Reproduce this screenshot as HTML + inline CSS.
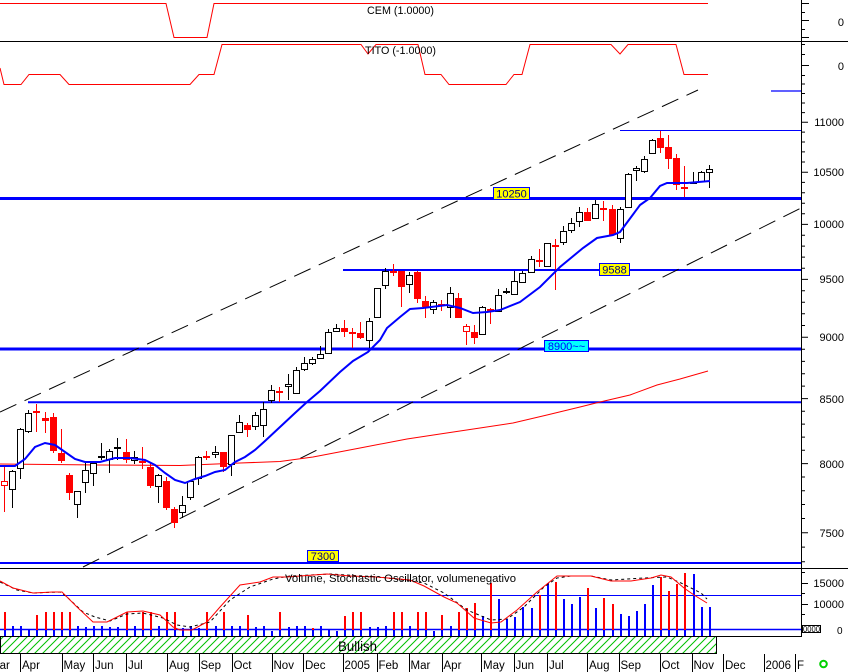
<!DOCTYPE html>
<html><head><meta charset="utf-8"><style>
html,body{margin:0;padding:0;background:#fff;}
svg{display:block;font-family:"Liberation Sans",Arial,sans-serif;}
</style></head><body>
<svg width="848" height="672" viewBox="0 0 848 672" xmlns="http://www.w3.org/2000/svg">
<defs>
<pattern id="h" width="8" height="8" patternUnits="userSpaceOnUse">
<path d="M-1,9 L9,-1 M-5,5 L5,-5 M3,13 L13,3" stroke="#00c000" stroke-width="1"/>
</pattern>
</defs>
<rect width="848" height="672" fill="#fff"/>

<polyline points="0,3.5 166,3.5 174,37.5 207,37.5 214,3.5 708,3.5" fill="none" stroke="#f00" stroke-width="1"/>
<line x1="0" y1="41.5" x2="848" y2="41.5" stroke="#000" stroke-width="1"/>
<polyline points="0,68 4,84.5 21,84.5 29,74.5 60,74.5 69,84.5 190,84.5 199,74.5 214,74.5 222,44.5 361,44.5 368,54 376,44.5 418,44.5 425,74.5 441,74.5 449,84.5 506,84.5 514,74.5 522,74.5 530,44.5 611,44.5 620,54 628,44.5 676,44.5 684,74.5 708,74.5" fill="none" stroke="#f00" stroke-width="1"/>
<text x="367" y="14" font-size="11" textLength="67" lengthAdjust="spacingAndGlyphs">CEM (1.0000)</text>
<text x="365" y="54" font-size="11" textLength="71" lengthAdjust="spacingAndGlyphs">TITO (-1.0000)</text>
<text x="844" y="26" font-size="11" text-anchor="end">0</text>
<text x="844" y="70" font-size="11" text-anchor="end">0</text>

<line x1="771" y1="91" x2="801" y2="91" stroke="#00f" stroke-width="1.3"/>
<line x1="620" y1="130.5" x2="801" y2="130.5" stroke="#00f" stroke-width="1"/>
<line x1="0" y1="198.5" x2="801" y2="198.5" stroke="#00f" stroke-width="3"/>
<line x1="343" y1="270" x2="801" y2="270" stroke="#00f" stroke-width="2"/>
<line x1="0" y1="349" x2="801" y2="349" stroke="#00f" stroke-width="3"/>
<line x1="28" y1="402.3" x2="801" y2="402.3" stroke="#00f" stroke-width="2"/>
<line x1="0" y1="563" x2="801" y2="563" stroke="#00f" stroke-width="2"/>

<line x1="0" y1="412" x2="698" y2="90" stroke="#000" stroke-width="1" stroke-dasharray="18 9"/>
<line x1="83" y1="567" x2="801" y2="208" stroke="#000" stroke-width="1" stroke-dasharray="18 9"/>

<polyline points="0,464 100,465 180,465.5 240,463 280,461.5 313,457 360,448 407,439 440,434 480,428 513,423 547,415 580,407 600,402 630,395 657,385 680,379 708,371" fill="none" stroke="#f00" stroke-width="1"/>

<path fill="none" stroke="#000" stroke-width="1" d="M12.5 470V508M20.5 428V479M28.5 410V433M77.5 491V518M85.5 463V493M93.5 462V486M101.5 443V460M109.5 449V473M117.5 438V460M134.5 451V464M158.5 474V503M182.5 496V518M190.5 480V500M198.5 456V485M215.5 446V458M231.5 435V476M239.5 415V433M255.5 412V430M263.5 402V437M271.5 385V403M288.5 374V400M296.5 367V394M304.5 357V371M312.5 357V365M320.5 346V359M328.5 329V354M336.5 324V332M369.5 318V348M377.5 288V318M385.5 268V289M409.5 272V293M433.5 300V314M450.5 287V318M482.5 306V335M498.5 289V312M506.5 288V294M514.5 271V295M522.5 271V283M531.5 256V273M547.5 243V267M563.5 226V245M571.5 218V233M579.5 207V227M595.5 200V219M620.5 207V243M628.5 173V208M636.5 166V181M644.5 156V173M652.5 139V154M693.5 172V184M701.5 171V182M709.5 165V188"/>
<path fill="none" stroke="#f00" stroke-width="1" d="M4.5 465V512M36.5 404V432M45.5 412V433M53.5 413V453M61.5 429V463M69.5 473V500M126.5 439V463M142.5 447V469M150.5 463V488M166.5 477V510M174.5 507V528M206.5 451V460M223.5 452V472M247.5 423V437M279.5 387V402M344.5 320V337M352.5 328V348M360.5 322V339M393.5 264V276M401.5 271V307M417.5 271V303M425.5 296V318M441.5 300V311M458.5 293V318M466.5 324V345M474.5 325V344M490.5 308V324M539.5 249V267M555.5 239V290M587.5 208V221M603.5 201V221M612.5 205V235M660.5 131V153M668.5 135V169M676.5 154V190M684.5 166V197"/>

<g fill="#fff" stroke="#000" stroke-width="1">
<rect x="9.5" y="471.5" width="6" height="18"/>
<rect x="17.5" y="429.5" width="6" height="39"/>
<rect x="25.5" y="413.5" width="6" height="18"/>
<rect x="74.5" y="491.5" width="6" height="13"/>
<rect x="82.5" y="470.5" width="6" height="12"/>
<rect x="90.5" y="463.5" width="6" height="10"/>
<rect x="106.5" y="451.5" width="6" height="8"/>
<rect x="131.5" y="457.5" width="6" height="3"/>
<rect x="155.5" y="475.5" width="6" height="11"/>
<rect x="179.5" y="505.5" width="6" height="7"/>
<rect x="187.5" y="481.5" width="6" height="16"/>
<rect x="195.5" y="457.5" width="6" height="21"/>
<rect x="212.5" y="452.5" width="6" height="2"/>
<rect x="228.5" y="435.5" width="6" height="29"/>
<rect x="236.5" y="422.5" width="6" height="10"/>
<rect x="252.5" y="415.5" width="6" height="11"/>
<rect x="260.5" y="409.5" width="6" height="16"/>
<rect x="268.5" y="390.5" width="6" height="10"/>
<rect x="285.5" y="384.5" width="6" height="2"/>
<rect x="293.5" y="370.5" width="6" height="23"/>
<rect x="301.5" y="363.5" width="6" height="6"/>
<rect x="309.5" y="359.5" width="6" height="4"/>
<rect x="317.5" y="354.5" width="6" height="4"/>
<rect x="325.5" y="332.5" width="6" height="21"/>
<rect x="333.5" y="328.5" width="6" height="3"/>
<rect x="366.5" y="321.5" width="6" height="19"/>
<rect x="374.5" y="288.5" width="6" height="29"/>
<rect x="382.5" y="271.5" width="6" height="14"/>
<rect x="406.5" y="275.5" width="6" height="9"/>
<rect x="430.5" y="302.5" width="6" height="7"/>
<rect x="447.5" y="293.5" width="6" height="14"/>
<rect x="479.5" y="307.5" width="6" height="27"/>
<rect x="495.5" y="295.5" width="6" height="16"/>
<rect x="511.5" y="281.5" width="6" height="13"/>
<rect x="519.5" y="273.5" width="6" height="9"/>
<rect x="528.5" y="259.5" width="6" height="13"/>
<rect x="544.5" y="243.5" width="6" height="23"/>
<rect x="560.5" y="231.5" width="6" height="11"/>
<rect x="568.5" y="223.5" width="6" height="7"/>
<rect x="576.5" y="212.5" width="6" height="9"/>
<rect x="592.5" y="204.5" width="6" height="14"/>
<rect x="617.5" y="209.5" width="6" height="29"/>
<rect x="625.5" y="174.5" width="6" height="33"/>
<rect x="633.5" y="168.5" width="6" height="2"/>
<rect x="641.5" y="159.5" width="6" height="12"/>
<rect x="649.5" y="140.5" width="6" height="13"/>
<rect x="698.5" y="172.5" width="6" height="9"/>
<rect x="706.5" y="169.5" width="6" height="3"/>
</g>
<g fill="#000">
<rect x="98" y="456" width="7" height="2"/>
<rect x="114" y="447" width="7" height="2"/>
<rect x="503" y="291" width="7" height="2"/>
<rect x="690" y="182" width="7" height="2"/>
</g>
<g fill="#f00">
<rect x="50" y="417" width="7" height="34"/>
<rect x="58" y="453" width="7" height="8"/>
<rect x="66" y="475" width="7" height="18"/>
<rect x="123" y="452" width="7" height="8"/>
<rect x="147" y="467" width="7" height="19"/>
<rect x="163" y="481" width="7" height="27"/>
<rect x="171" y="509" width="7" height="14"/>
<rect x="220" y="452" width="7" height="15"/>
<rect x="244" y="425" width="7" height="5"/>
<rect x="341" y="328" width="7" height="4"/>
<rect x="357" y="333" width="7" height="5"/>
<rect x="398" y="271" width="7" height="16"/>
<rect x="414" y="272" width="7" height="27"/>
<rect x="422" y="301" width="7" height="6"/>
<rect x="455" y="298" width="7" height="20"/>
<rect x="471" y="332" width="7" height="6"/>
<rect x="584" y="212" width="7" height="9"/>
<rect x="609" y="209" width="7" height="26"/>
<rect x="657" y="138" width="7" height="10"/>
<rect x="665" y="147" width="7" height="12"/>
<rect x="673" y="158" width="7" height="27"/>
<rect x="33" y="411" width="7" height="2"/>
<rect x="42" y="418" width="7" height="3"/>
<rect x="139" y="461" width="7" height="2"/>
<rect x="203" y="456" width="7" height="2"/>
<rect x="276" y="391" width="7" height="2"/>
<rect x="349" y="332" width="7" height="2"/>
<rect x="390" y="271" width="7" height="2"/>
<rect x="438" y="304" width="7" height="2"/>
<rect x="487" y="309" width="7" height="3"/>
<rect x="536" y="260" width="7" height="2"/>
<rect x="552" y="245" width="7" height="2"/>
<rect x="600" y="208" width="7" height="2"/>
<rect x="681" y="187" width="7" height="2"/>
</g>
<g fill="#fff" stroke="#f00" stroke-width="1">
<rect x="1.5" y="481.5" width="6" height="4"/>
<rect x="463.5" y="326.5" width="6" height="5"/>
</g>

<polyline points="0,466 15,466 25,459 35,447 45,443 55,445 65,452 75,459 85,462 100,462 115,458 130,458 145,460 155,465 165,473 175,480 185,483 195,479 205,476 215,472 225,470 235,462 245,457 255,450 265,441 280,427 295,413 307,402 320,391 340,372 353,361 368,352 380,340 387,328 400,317 410,309 423,308 447,305 460,308 473,313 487,312 500,310 520,302 540,287 560,267 583,248 597,238 613,235 620,232 640,205 650,198 660,186 667,183 687,183 710,181" fill="none" stroke="#00f" stroke-width="2"/>

<rect x="493.5" y="187.5" width="36" height="12" fill="#ff0" stroke="#00f" stroke-width="1"/>
<text x="511.5" y="197.5" font-size="11" text-anchor="middle" fill="#000080">10250</text>
<rect x="599.5" y="263.5" width="30" height="12" fill="#ff0" stroke="#00f" stroke-width="1"/>
<text x="614.5" y="273.5" font-size="11" text-anchor="middle" fill="#000080">9588</text>
<rect x="544.5" y="340.5" width="44" height="11" fill="#0ff" stroke="#00f" stroke-width="1"/>
<text x="566.5" y="350" font-size="11" text-anchor="middle" fill="#00f">8900~~</text>
<rect x="307.5" y="550.5" width="31" height="11" fill="#ff0" stroke="#00f" stroke-width="1"/>
<text x="323" y="560" font-size="11" text-anchor="middle" fill="#000080">7300</text>

<line x1="0" y1="568.5" x2="848" y2="568.5" stroke="#000" stroke-width="1"/>
<line x1="801.5" y1="0" x2="801.5" y2="637" stroke="#000" stroke-width="1"/>

<path fill="none" stroke="#000" stroke-width="1" d="M801 3.5h8M801 12.5h4M801 20.5h8M801 29.5h4M801 37.5h8M801 44.5h4M801 54.5h4M801 65.5h8M801 75.5h4M801 84h4M801 93.5h4M801 103h4M801 112.6h4M801 122.3h7M801 132.1h4M801 142h4M801 151.9h4M801 162h4M801 172.2h7M801 182.4h4M801 192.8h4M801 203.2h4M801 213.8h4M801 224.4h7M801 235.2h4M801 246.1h4M801 257.1h4M801 268.2h4M801 279.4h7M801 290.7h4M801 302.2h4M801 313.8h4M801 325.5h4M801 337.3h7M801 349.3h4M801 361.4h4M801 373.7h4M801 386.1h4M801 398.6h7M801 411.3h4M801 424.1h4M801 437.1h4M801 450.2h4M801 463.6h7M801 477h4M801 490.7h4M801 504.5h4M801 518.5h4M801 532.7h7M801 547.1h4M801 561.7h4M801 572.5h4M801 583.5h7M801 593.5h4M801 604.5h7M801 614.5h4M801 625.5h4"/>
<g font-size="11" text-anchor="end" fill="#000">
<text x="844" y="126">11000</text>
<text x="844" y="176">10500</text>
<text x="844" y="228">10000</text>
<text x="844" y="283">9500</text>
<text x="844" y="341">9000</text>
<text x="844" y="403">8500</text>
<text x="844" y="468">8000</text>
<text x="844" y="537">7500</text>
<text x="844" y="587">15000</text>
<text x="844" y="608">10000</text>
</g>
<rect x="802.5" y="625.5" width="18" height="7" fill="#fff" stroke="#000" stroke-width="1"/>
<text x="803" y="632" font-size="8" textLength="17" lengthAdjust="spacingAndGlyphs">0000</text>
<text x="837" y="634" font-size="10">0</text>

<line x1="0" y1="595.5" x2="801" y2="595.5" stroke="#00f" stroke-width="1"/>
<line x1="0" y1="629.5" x2="801" y2="629.5" stroke="#00f" stroke-width="1.5"/>

<path fill="none" stroke="#f00" stroke-width="2" d="M5 612V630M37 615V630M46 612V630M54 612V630M62 612V630M70 612V630M127 612V630M143 612V630M151 612V630M167 612V630M175 612V630M207 612V630M224 612V630M248 615V630M280 612V630M313 628V630M345 616V630M353 612V630M361 612V630M394 612V630M402 612V630M418 612V630M426 612V630M442 615V630M459 612V630M467 608V630M475 603V630M491 583V630M540 595V630M556 582V630M588 588V630M604 598V630M613 604V630M661 577V630M669 591V630M677 584V630M685 573V630"/>
<path fill="none" stroke="#00f" stroke-width="2" d="M13 626V636M21 626V636M29 629V636M78 626V636M86 627V636M94 626V636M102 626V636M110 627V636M118 627V636M135 626V636M159 626V636M183 628V636M191 626V636M199 628V636M216 626V636M232 626V636M240 626V636M256 627V636M264 626V636M272 631V636M289 627V636M297 626V636M305 626V636M321 626V636M329 630V636M337 631V636M370 627V636M378 627V636M386 626V636M410 626V636M434 631V636M451 626V636M483 616V636M499 599V636M507 619V636M515 617V636M523 607V636M532 608V636M548 583V636M564 599V636M572 604V636M580 597V636M596 608V636M621 614V636M629 616V636M637 611V636M645 604V636M653 585V636M694 574V636M702 607V636M710 607V636M5 630V636M37 630V636M46 630V636M54 630V636M62 630V636M70 630V636M127 630V636M143 630V636M151 630V636M167 630V636M175 630V636M207 630V636M224 630V636M248 630V636M280 630V636M313 630V636M345 630V636M353 630V636M361 630V636M394 630V636M402 630V636M418 630V636M426 630V636M442 630V636M459 630V636M467 630V636M475 630V636M491 630V636M540 630V636M556 630V636M588 630V636M604 630V636M613 630V636M661 630V636M669 630V636M677 630V636M685 630V636"/>

<polyline points="0,582 17,590 33,593 60,592 67,597 83,612 95,617 110,621 127,614 143,613 163,618 177,625 190,627 210,622 230,600 250,587 273,579 290,576 330,574 380,577 424,583 444,593 467,610 491,620 507,619 524,607 544,587 557,578 571,576 591,576 611,580 644,578 667,577 681,583 701,593 707,599" fill="none" stroke="#000" stroke-width="1" stroke-dasharray="3 3"/>
<polyline points="0,581 13,588 33,593 53,592 62,592 77,607 93,622 107,622 127,612 143,611 160,615 173,627 180,630 192,630 207,622 220,607 240,585 260,582 273,577 287,577 327,574 350,576 377,577 410,580 424,586 444,597 457,603 474,618 491,623 501,622 517,610 537,592 557,576 591,576 611,581 631,581 651,578 661,575 671,577 684,588 694,595 707,603" fill="none" stroke="#f00" stroke-width="1"/>
<text x="285" y="582" font-size="11" textLength="231" lengthAdjust="spacingAndGlyphs">Volume, Stochastic Oscillator, volumenegativo</text>

<line x1="0" y1="636.5" x2="801" y2="636.5" stroke="#000" stroke-width="1"/>
<rect x="0.5" y="636.5" width="716" height="17" fill="url(#h)" stroke="#000" stroke-width="1"/>
<text x="338" y="651" font-size="14" textLength="39" lengthAdjust="spacingAndGlyphs">Bullish</text>

<path fill="none" stroke="#000" stroke-width="1" d="M20.5 654V672M62.5 654V672M93.5 654V672M126.5 654V672M167.5 654V672M199.5 654V672M232.5 654V672M272.5 654V672M303.5 654V672M343.5 654V672M377.5 654V672M409.5 654V672M442.5 654V672M481.5 654V672M514.5 654V672M547.5 654V672M587.5 654V672M619.5 654V672M660.5 654V672M692.5 654V672M723.5 654V672M764.5 654V672M795.5 654V672"/>
<g font-size="11.5" fill="#000">
<text x="-10" y="669">Mar</text>
<text x="22" y="669">Apr</text>
<text x="63.5" y="669">May</text>
<text x="95" y="669">Jun</text>
<text x="128" y="669">Jul</text>
<text x="169" y="669">Aug</text>
<text x="200.5" y="669">Sep</text>
<text x="233.5" y="669">Oct</text>
<text x="273.5" y="669">Nov</text>
<text x="305" y="669">Dec</text>
<text x="344.5" y="669">2005</text>
<text x="378.5" y="669">Feb</text>
<text x="410.5" y="669">Mar</text>
<text x="443.5" y="669">Apr</text>
<text x="483" y="669">May</text>
<text x="515.5" y="669">Jun</text>
<text x="549" y="669">Jul</text>
<text x="589" y="669">Aug</text>
<text x="620.5" y="669">Sep</text>
<text x="661.5" y="669">Oct</text>
<text x="693.5" y="669">Nov</text>
<text x="725" y="669">Dec</text>
<text x="765.5" y="669">2006</text>
<text x="797" y="669">F</text>
</g>
<circle cx="823.5" cy="664" r="3.3" fill="none" stroke="#00d000" stroke-width="2"/>
</svg>
</body></html>
